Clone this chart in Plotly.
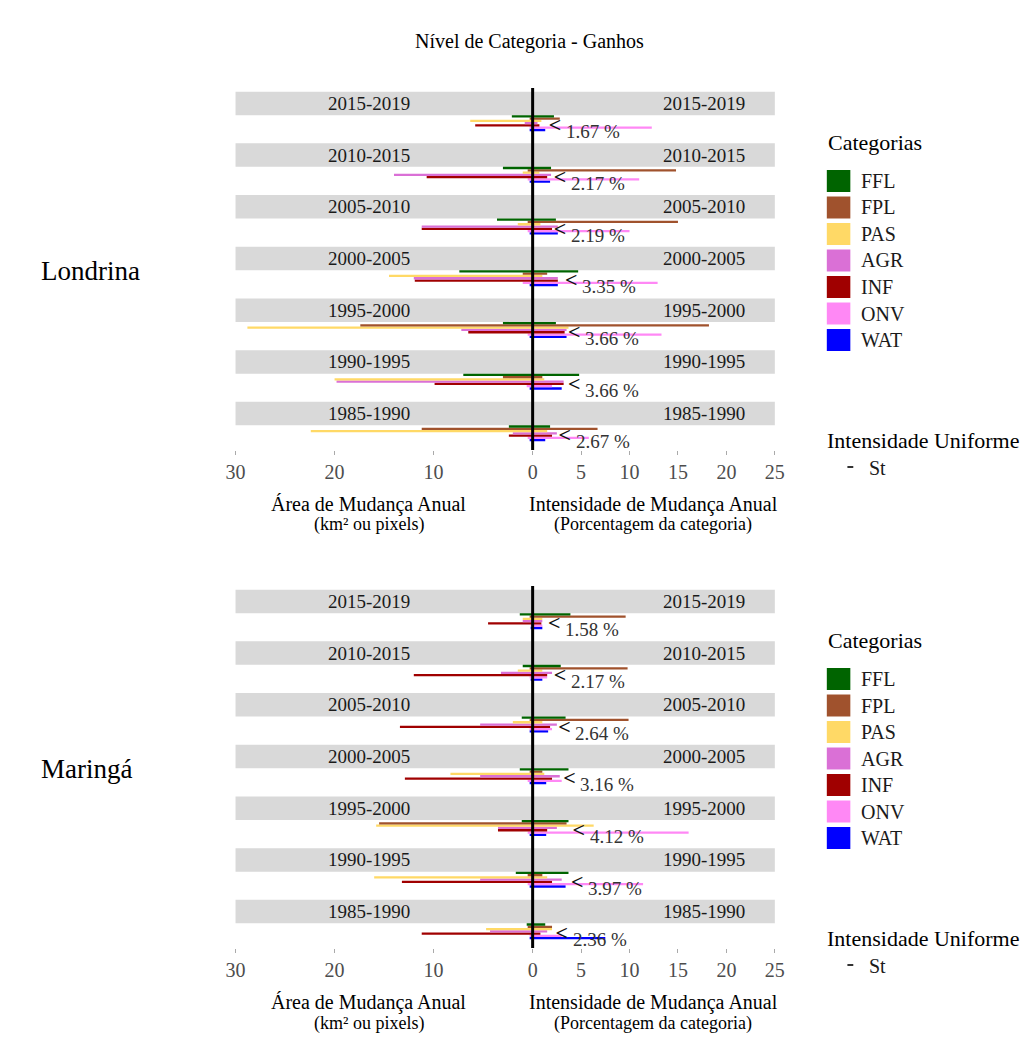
import plotly.graph_objects as go

# ---------------------------------------------------------------- data
periods = ["1985-1990", "1990-1995", "1995-2000", "2000-2005",
           "2005-2010", "2010-2015", "2015-2019"]          # oldest first
categories = ["FFL", "FPL", "PAS", "AGR", "INF", "ONV", "WAT"]
category_colors = ["#006400", "#A0522D", "#FFD966", "#DA70D6",
                   "#A00000", "#FF88F5", "#0000FF"]

# Londrina - annual gain area (km² or pixels), one value per period
lon_area_ffl = [2.4, 7.0, 3.0, 7.4, 3.6, 3.0, 2.1]
lon_area_fpl = [11.2, 3.0, 17.4, 1.0, 0.5, 0.5, 0.3]
lon_area_pas = [22.4, 20.0, 28.8, 14.5, 1.5, 1.0, 6.3]
lon_area_agr = [2.0, 19.8, 7.2, 12.0, 11.2, 14.0, 0.8]
lon_area_inf = [2.4, 9.9, 6.5, 11.9, 11.2, 10.7, 5.8]
lon_area_onv = [0.5, 0.6, 0.5, 1.0, 0.5, 0.5, 0.3]
lon_area_wat = [0.3, 0.3, 0.3, 0.3, 0.3, 0.3, 0.3]
# Londrina - annual gain intensity (% of the category)
lon_int_ffl = [1.8, 4.8, 2.4, 4.7, 2.4, 1.9, 2.2]
lon_int_fpl = [6.7, 1.0, 18.2, 1.5, 15.0, 14.8, 2.8]
lon_int_pas = [1.5, 1.2, 3.7, 1.0, 0.8, 0.7, 0.9]
lon_int_agr = [2.5, 3.2, 3.5, 2.6, 2.6, 1.9, 0.5]
lon_int_inf = [2.0, 3.2, 3.3, 2.6, 2.0, 1.5, 0.7]
lon_int_onv = [5.8, 2.0, 13.3, 12.9, 10.0, 11.0, 12.3]
lon_int_wat = [1.3, 3.0, 3.5, 2.6, 2.6, 1.8, 1.3]
lon_uniform = [2.67, 3.66, 3.66, 3.35, 2.19, 2.17, 1.67]

# Maringá - annual gain area (km² or pixels)
mar_area_ffl = [0.6, 1.7, 1.1, 1.3, 1.1, 1.0, 1.3]
mar_area_fpl = [0.5, 0.5, 15.5, 0.3, 0.3, 0.3, 0.3]
mar_area_pas = [4.7, 16.0, 15.8, 8.3, 2.0, 1.5, 1.0]
mar_area_agr = [4.3, 5.3, 3.5, 5.3, 5.3, 3.2, 1.0]
mar_area_inf = [11.2, 13.2, 3.5, 12.9, 13.4, 12.0, 4.5]
mar_area_onv = [0.3, 0.5, 0.5, 0.5, 0.3, 0.3, 0.2]
mar_area_wat = [0.3, 0.3, 0.3, 0.3, 0.3, 0.2, 0.2]
# Maringá - annual gain intensity (% of the category)
mar_int_ffl = [1.3, 3.7, 3.7, 3.7, 3.4, 2.9, 3.9]
mar_int_fpl = [2.0, 1.0, 3.5, 1.0, 9.9, 9.8, 9.6]
mar_int_pas = [2.0, 1.5, 6.3, 1.2, 1.0, 1.0, 1.0]
mar_int_agr = [1.5, 3.0, 2.5, 2.8, 2.5, 2.0, 1.0]
mar_int_inf = [0.8, 2.0, 1.5, 2.0, 1.8, 1.5, 0.9]
mar_int_onv = [3.0, 11.4, 16.1, 3.0, 2.0, 1.5, 1.0]
mar_int_wat = [7.5, 3.4, 1.4, 1.4, 1.6, 1.0, 1.0]
mar_uniform = [2.36, 3.97, 4.12, 3.16, 2.64, 2.17, 1.58]

left_ticks = [30, 20, 10, 0]
right_ticks = [5, 10, 15, 20, 25]

cities = [
    dict(name="Londrina",
         area=[lon_area_ffl, lon_area_fpl, lon_area_pas, lon_area_agr,
               lon_area_inf, lon_area_onv, lon_area_wat],
         inten=[lon_int_ffl, lon_int_fpl, lon_int_pas, lon_int_agr,
                lon_int_inf, lon_int_onv, lon_int_wat],
         uniform=lon_uniform, xl="x", xr="x2", y="y", top=88),
    dict(name="Maringá",
         area=[mar_area_ffl, mar_area_fpl, mar_area_pas, mar_area_agr,
               mar_area_inf, mar_area_onv, mar_area_wat],
         inten=[mar_int_ffl, mar_int_fpl, mar_int_pas, mar_int_agr,
                mar_int_inf, mar_int_onv, mar_int_wat],
         uniform=mar_uniform, xl="x3", xr="x4", y="y2", top=586),
]

# ---------------------------------------------------------------- layout helpers
W, H = 1029, 1055
FONT = "Liberation Serif"
X_LEFT, X_ZERO, X_RIGHT = 230, 533, 780   # pixel edges of the two halves


def fx(px):
    return px / W


def fy(px):
    return 1 - px / H


ROW_PX = 51.7                      # height of one period row
GROUP_PX = 16                      # height of one group of bars
PANEL_PX = 362                     # plot height of one city block
Y_TOP = 6 + 35.15 / ROW_PX         # data value at the top of each block
Y_BOTTOM = Y_TOP - PANEL_PX / ROW_PX
STRIP_LO = (GROUP_PX / 2) / ROW_PX
STRIP_HI = STRIP_LO + 23.5 / ROW_PX
STRIP_MID = (STRIP_LO + STRIP_HI) / 2

pos = list(range(len(periods)))


def text_note(x, y, text, size, color="#1A1A1A", xanchor="center",
              xref="paper", yref="paper", xshift=0):
    return dict(x=x, y=y, xref=xref, yref=yref, xanchor=xanchor,
                yanchor="middle", xshift=xshift, showarrow=False, text=text,
                font=dict(family=FONT, size=size, color=color))


fig = go.Figure()
shapes, annotations = [], []

for c in cities:
    # bars: drawn last-category-first so FFL ends up on top of each group
    for i in reversed(range(len(categories))):
        for xa, vals in ((c["xl"], c["area"][i]), (c["xr"], c["inten"][i])):
            fig.add_trace(go.Bar(
                y=pos, x=vals, orientation="h",
                xaxis=xa, yaxis=c["y"], offsetgroup=categories[i],
                marker=dict(color=category_colors[i], line=dict(width=0)),
                name=categories[i], showlegend=False, hoverinfo="x+name"))

    # uniform intensity marker
    fig.add_trace(go.Scatter(
        x=c["uniform"], y=[p - 0.07 for p in pos], mode="text",
        text=["<"] * len(pos), textposition="middle right",
        xaxis=c["xr"], yaxis=c["y"],
        textfont=dict(family=FONT, size=22, color="#111111", weight="bold"),
        showlegend=False, hoverinfo="x"))
    for p, v in zip(pos, c["uniform"]):
        annotations.append(text_note(
            v, p - 0.165, f"{v:.2f} %", 19, "#333333", xanchor="left",
            xref=c["xr"], yref=c["y"], xshift=15))

    # period strips across both halves
    for p, label in zip(pos, periods):
        shapes.append(dict(
            type="rect", xref="paper", yref=c["y"], x0=fx(X_LEFT),
            x1=fx(X_RIGHT), y0=p + STRIP_LO, y1=p + STRIP_HI,
            fillcolor="#D9D9D9", line=dict(width=0), layer="below"))
        for xc in (366, 708):
            annotations.append(text_note(
                fx(xc), p + STRIP_MID, label, 19, yref=c["y"]))

    top = c["top"]
    # zero line (on paper so it is not clipped by the subplot edge)
    shapes.append(dict(
        type="line", xref="paper", yref="paper", x0=fx(X_ZERO),
        x1=fx(X_ZERO), y0=fy(top + PANEL_PX), y1=fy(top),
        line=dict(color="black", width=3), layer="above"))

    # city name
    annotations.append(text_note(fx(30), fy(top + 183), c["name"], 27,
                                 "black", xanchor="left"))
    # axis titles
    for xc, l1, l2 in ((366, "Área de Mudança Anual", "(km² ou pixels)"),
                       (656, "Intensidade de Mudança Anual",
                        "(Porcentagem da categoria)")):
        annotations.append(text_note(fx(xc), fy(top + 416), l1, 20, "black"))
        annotations.append(text_note(fx(xc), fy(top + 437), l2, 18, "black"))

    # legend: categories
    annotations.append(text_note(fx(832), fy(top + 54), "Categorias", 22,
                                 "black", xanchor="left"))
    for k, (cat, col) in enumerate(zip(categories, category_colors)):
        yc = top + 93 + 26.5 * k
        shapes.append(dict(
            type="rect", xref="paper", yref="paper", x0=fx(833), x1=fx(857),
            y0=fy(yc + 11), y1=fy(yc - 11), fillcolor=col,
            line=dict(width=0)))
        annotations.append(text_note(fx(866), fy(yc), cat, 20,
                                     xanchor="left"))
    # legend: uniform intensity
    annotations.append(text_note(fx(831), fy(top + 352),
                                 "Intensidade Uniforme", 22, "black",
                                 xanchor="left"))
    shapes.append(dict(
        type="line", xref="paper", yref="paper", x0=fx(854), x1=fx(860),
        y0=fy(top + 379), y1=fy(top + 379),
        line=dict(color="#333333", width=2)))
    annotations.append(text_note(fx(874), fy(top + 380), "St", 20,
                                 xanchor="left"))

# title
annotations.append(text_note(fx(530), fy(42), "Nível de Categoria - Ganhos",
                             20, "black"))

tickfont = dict(family=FONT, size=20, color="#4D4D4D")


def left_axis(anchor):
    return dict(domain=[fx(X_LEFT), fx(X_ZERO)], range=[30, 0],
                anchor=anchor, tickvals=left_ticks,
                ticktext=[str(t) for t in left_ticks],
                ticks="outside", ticklen=4, tickcolor="#AAAAAA",
                showgrid=False, zeroline=False, showline=False,
                tickfont=tickfont, fixedrange=True)


def right_axis(anchor):
    return dict(domain=[fx(X_ZERO), fx(X_RIGHT)], range=[0, 25],
                anchor=anchor, tickvals=right_ticks,
                ticktext=[str(t) for t in right_ticks],
                ticks="outside", ticklen=4, tickcolor="#AAAAAA",
                showgrid=False, zeroline=False, showline=False,
                tickfont=tickfont, fixedrange=True)


def y_axis(anchor, top):
    return dict(domain=[fy(top + PANEL_PX), fy(top)], range=[Y_BOTTOM, Y_TOP],
                anchor=anchor, visible=False, fixedrange=True)


fig.update_layout(
    width=W, height=H, margin=dict(l=0, r=0, t=0, b=0),
    paper_bgcolor="white", plot_bgcolor="white",
    font=dict(family=FONT, color="#1A1A1A"),
    barmode="group", bargap=1 - GROUP_PX / ROW_PX, bargroupgap=0,
    showlegend=False,
    xaxis=left_axis("y"), xaxis2=right_axis("y"),
    xaxis3=left_axis("y2"), xaxis4=right_axis("y2"),
    yaxis=y_axis("x", 88), yaxis2=y_axis("x3", 586),
    shapes=shapes, annotations=annotations,
)

fig.write_html("out.html")
